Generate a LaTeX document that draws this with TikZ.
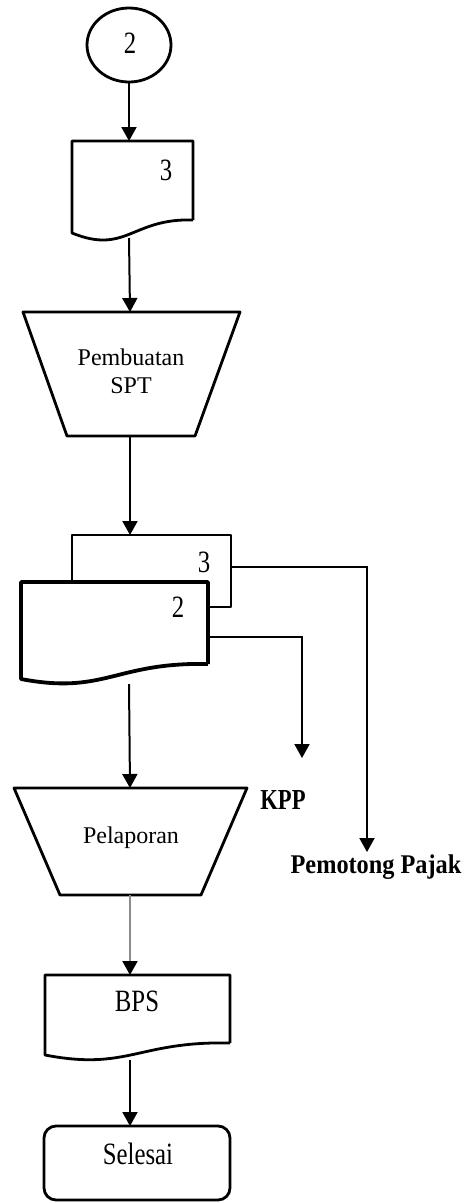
\documentclass[tikz,border=0pt]{standalone}
\usepackage{fontspec}
\setmainfont{Liberation Serif}
\newfontfamily\sempit[FakeStretch=0.8]{Liberation Serif}
\newfontfamily\sempitA[FakeStretch=0.78]{Liberation Serif Bold}
\newfontfamily\sempitB[FakeStretch=0.9]{Liberation Serif Bold}
\usetikzlibrary{arrows.meta, shapes.geometric}
\tikzset{
  garis/.style={line width=2.8pt, line join=round},
  tebal/.style={line width=3.8pt, line join=round},
  panah/.style={line width=2pt, -{Triangle[length=14pt, width=15pt]}},
  huruf/.style={font=\fontsize{24}{28}\selectfont, align=center},
  angka/.style={font=\sempit\fontsize{31}{33}\selectfont},
  judul/.style={font=\sempit\fontsize{31}{33}\selectfont},
  hurufKPP/.style={font=\sempitA\fontsize{29}{31}\selectfont},
  hurufPotong/.style={font=\sempitB\fontsize{27}{30}\selectfont}
}
\begin{document}
\begin{tikzpicture}[x=1pt, y=-1pt]
\useasboundingbox (0, 0) rectangle (469, 1203);
\clip (0, 0) rectangle (469, 1203);
% konektor awal
\node[ellipse, draw, garis, minimum width=84pt, minimum height=74pt, inner sep=0pt] (mulai) at (129, 45) {};
\node[angka] (noMulai) at (130, 43) {2};
% dokumen 3
\draw[garis] (193, 220) -- (193, 141) -- (72, 141) -- (72, 233) .. controls (126, 255) and (132, 218) .. (193, 220);
\coordinate (dokAatas) at (129, 141);
\coordinate (dokAbawah) at (129, 238);
\node[angka] (noA) at (166, 170) {3};
% pembuatan SPT
\draw[garis] (23, 312) -- (240, 312) -- (195, 436) -- (67, 436) -- cycle;
\coordinate (spoAatas) at (130, 312);
\coordinate (spoAbawah) at (130, 436);
\node[huruf] (spoA) at (131, 371) {Pembuatan\\SPT};
% dokumen 3 (belakang)
\draw[garis] (72, 582) -- (72, 535) -- (231, 535) -- (231, 607) -- (208, 607);
\coordinate (dokBatas) at (130, 535);
\coordinate (dokBkanan) at (231, 567);
\node[angka] (noB) at (204, 562) {3};
% dokumen 2 (depan)
\draw[tebal] (208, 664) -- (208, 582) -- (21, 582) -- (21, 679) .. controls (105, 695) and (115, 662) .. (208, 664);
\coordinate (dokCkanan) at (208, 637);
\coordinate (dokCbawah) at (129, 684);
\node[angka] (noC) at (178, 607) {2};
% pelaporan
\draw[garis] (14, 788) -- (247, 788) -- (201, 895) -- (60, 895) -- cycle;
\coordinate (spoBatas) at (130, 788);
\coordinate (spoBbawah) at (130, 895);
\node[huruf] (spoB) at (131, 838) {Pelaporan};
% BPS
\draw[garis] (230, 1043) -- (230, 975) -- (45, 975) -- (45, 1055) .. controls (128, 1071) and (138, 1041) .. (230, 1043);
\coordinate (bpsAtas) at (130, 975);
\coordinate (bpsBawah) at (130, 1060);
\node[judul] (bps) at (137, 1001) {BPS};
% selesai
\draw[garis, rounded corners=12pt] (44, 1126) rectangle (230, 1200);
\coordinate (akhirAtas) at (130, 1126);
\node[judul] (akhir) at (138, 1154) {Selesai};
% tujuan
\node[hurufKPP] (kpp) at (283, 800) {KPP};
\node[hurufPotong] (potong) at (376, 867) {Pemotong Pajak};
\coordinate (keKPP) at (302, 758);
\coordinate (kePotong) at (367, 852);
% panah
\draw[panah] (mulai.south) -- (dokAatas);
\draw[panah] (dokAbawah) -- (spoAatas);
\draw[panah] (spoAbawah) -- (dokBatas);
\draw[panah] (dokCbawah) -- (spoBatas);
\draw[panah, color=black!45, -{Triangle[length=14pt, width=15pt, color=black]}] (spoBbawah) -- (bpsAtas);
\draw[panah] (bpsBawah) -- (akhirAtas);
\draw[panah] (dokBkanan) -| (kePotong);
\draw[panah] (dokCkanan) -| (keKPP);
\end{tikzpicture}
\end{document}
